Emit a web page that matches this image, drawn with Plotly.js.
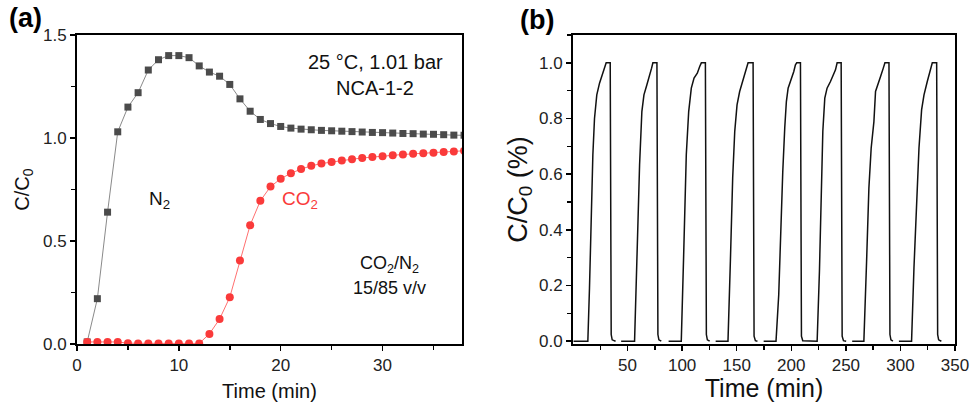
<!DOCTYPE html>
<html>
<head>
<meta charset="utf-8">
<script src="https://cdn.plot.ly/plotly-3.0.1.min.js"></script>
<style>
  html, body { margin: 0; padding: 0; background: #fff; }
  #chart { width: 971px; height: 402px; }
</style>
</head>
<body>
<div id="chart"></div>
<script>
// (a) breakthrough curves, 25 °C, 1.01 bar, NCA-1-2
const n2Time = [1, 2, 3, 4, 5, 6, 7, 8, 9, 10, 11, 12, 13, 14, 15, 16, 17, 18, 19, 20,
  21, 22, 23, 24, 25, 26, 27, 28, 29, 30, 31, 32, 33, 34, 35, 36, 37, 38];
const n2C = [0.01, 0.22, 0.64, 1.03, 1.15, 1.22, 1.33, 1.38, 1.40, 1.40, 1.39, 1.35, 1.32, 1.30,
  1.26, 1.19, 1.13, 1.09, 1.07, 1.056, 1.048, 1.043, 1.040, 1.037, 1.035, 1.033, 1.031, 1.029,
  1.027, 1.026, 1.024, 1.022, 1.021, 1.019, 1.018, 1.016, 1.014, 1.013];
const co2Time = [1, 2, 3, 4, 5, 6, 7, 8, 9, 10, 11, 12, 13, 14, 15, 16, 17, 18, 19, 20,
  21, 22, 23, 24, 25, 26, 27, 28, 29, 30, 31, 32, 33, 34, 35, 36, 37, 38];
const co2C = [0.01, 0.01, 0.01, 0.01, 0.004, 0.003, 0.003, 0.003, 0.003, 0.003, 0.003, 0.003,
  0.049, 0.121, 0.227, 0.405, 0.577, 0.695, 0.764, 0.802, 0.829, 0.849, 0.865, 0.876, 0.884,
  0.891, 0.897, 0.903, 0.908, 0.912, 0.916, 0.920, 0.923, 0.926, 0.929, 0.932, 0.935, 0.938];

// (b) eight adsorption/desorption cycles
const cycleTime = [
  [0.5, 13.6, 15.1, 16.6, 18.2, 19.7, 21.8, 24.3, 26.7, 28.9, 30.4, 34.1, 35.0, 35.9, 39.0],
  [44.1, 56.4, 58.5, 61.0, 63.1, 65.0, 67.7, 70.2, 72.0, 73.2, 76.9, 77.8, 78.7, 80.9],
  [87.6, 99.2, 101.4, 103.8, 106.0, 108.4, 110.9, 113.9, 116.1, 117.6, 121.3, 122.2, 123.1, 125.2],
  [130.7, 142.0, 144.2, 146.3, 148.2, 150.3, 152.7, 155.8, 158.9, 160.4, 165.0, 165.9, 167.1, 169.0],
  [174.7, 186.0, 188.5, 190.0, 192.2, 194.0, 195.5, 197.1, 199.8, 202.3, 203.8, 205.0, 208.4, 209.3, 210.5,
   223.7, 225.8, 227.6, 228.9, 230.7, 232.8, 235.9, 238.0, 240.5, 242.0, 245.7, 246.6, 247.8, 250.3],
  [255.8, 266.5, 269.0, 271.1, 273.2, 275.7, 277.2, 279.4, 281.8, 284.3, 285.8, 289.5, 290.4, 291.3, 293.1],
  [298.6, 310.2, 312.4, 314.5, 317.0, 319.4, 321.6, 324.6, 327.7, 329.2, 333.2, 334.1, 335.0, 337.5]
];
const cycleC = [
  [0, 0, 0.19, 0.45, 0.67, 0.80, 0.885, 0.927, 0.957, 0.987, 1.0, 1.0, 0.024, 0.005, 0],
  [0, 0, 0.287, 0.634, 0.825, 0.885, 0.921, 0.951, 0.981, 1.0, 1.0, 0.024, 0.005, 0],
  [0, 0, 0.311, 0.67, 0.825, 0.909, 0.945, 0.963, 0.987, 1.0, 1.0, 0.024, 0.005, 0],
  [0, 0, 0.287, 0.586, 0.754, 0.849, 0.897, 0.939, 0.981, 1.0, 1.0, 0.018, 0.002, 0],
  [0, 0, 0.167, 0.359, 0.61, 0.766, 0.861, 0.909, 0.939, 0.969, 0.993, 1.0, 1.0, 0.018, 0.002,
   0, 0.251, 0.55, 0.754, 0.873, 0.909, 0.933, 0.951, 0.975, 1.0, 1.0, 0.018, 0.002, 0],
  [0, 0, 0.287, 0.55, 0.694, 0.789, 0.897, 0.927, 0.951, 0.981, 1.0, 1.0, 0.024, 0.005, 0],
  [0, 0, 0.263, 0.49, 0.694, 0.831, 0.885, 0.933, 0.975, 1.0, 1.0, 0.024, 0.005, 0]
];

const xTicksB = [50, 100, 150, 200, 250, 300, 350];

// join the cycles into one line, broken between runs
const bTime = [], bC = [];
cycleTime.forEach((t, i) => {
  if (i > 0) { bTime.push(null); bC.push(null); }
  t.forEach((v, j) => { bTime.push(v); bC.push(cycleC[i][j]); });
});
const minorB = [];
for (let v = 25; v < 350; v += 50) minorB.push(v);

const FONT = 'Arial, "Liberation Sans", sans-serif';

const traces = [
  {
    x: n2Time, y: n2C, xaxis: 'x', yaxis: 'y', mode: 'lines+markers',
    line: { color: '#8a8a8a', width: 1 },
    marker: { symbol: 'square', size: 7, color: '#4b4b4b' },
    showlegend: false
  },
  {
    x: co2Time, y: co2C, xaxis: 'x', yaxis: 'y', mode: 'lines+markers',
    line: { color: '#ff7070', width: 1 },
    marker: { symbol: 'circle', size: 8, color: '#fa3a3a' },
    showlegend: false
  },
  {
    x: bTime, y: bC, xaxis: 'x2', yaxis: 'y2', mode: 'lines',
    line: { color: '#111', width: 1.5 }, connectgaps: false,
    showlegend: false
  }
];

const axisBase = {
  showgrid: false, zeroline: false, showline: true, linecolor: '#000', linewidth: 2,
  mirror: true, ticks: 'outside', ticklen: 5, tickwidth: 1.5, tickcolor: '#000',
  tickfont: { family: FONT, size: 17, color: '#222' }
};

const layout = {
  width: 971, height: 402,
  margin: { l: 0, r: 0, t: 0, b: 0 },
  paper_bgcolor: '#fff', plot_bgcolor: '#fff',
  font: { family: FONT, color: '#000' },
  xaxis: Object.assign({}, axisBase, {
    domain: [77 / 971, 462 / 971], range: [0, 37.8], anchor: 'y',
    tickmode: 'linear', tick0: 0, dtick: 10,
    minor: { dtick: 5, tick0: 0, ticks: 'outside', ticklen: 4, tickwidth: 1.5, tickcolor: '#000' },
    title: { text: 'Time (min)', font: { family: FONT, size: 20, color: '#111' }, standoff: 11 }
  }),
  yaxis: Object.assign({}, axisBase, {
    domain: [58 / 402, 367 / 402], range: [0, 1.5], anchor: 'x',
    tickmode: 'linear', tick0: 0, dtick: 0.5, tickformat: '.1f',
    minor: { dtick: 0.25, tick0: 0, ticks: 'outside', ticklen: 4, tickwidth: 1.5, tickcolor: '#000' },
    title: { text: 'C/C<sub>0</sub>', font: { family: FONT, size: 20, color: '#111' }, standoff: 8 }
  }),
  xaxis2: Object.assign({}, axisBase, {
    domain: [573 / 971, 955 / 971], range: [0, 350], anchor: 'y2',
    tickmode: 'array', tickvals: xTicksB,
    minor: { tickmode: 'array', tickvals: minorB, ticks: 'outside', ticklen: 4, tickwidth: 1.5, tickcolor: '#000' },
    title: { text: 'Time (min)', font: { family: FONT, size: 25, color: '#111' }, standoff: 2 }
  }),
  yaxis2: Object.assign({}, axisBase, {
    domain: [58 / 402, 367 / 402], range: [-0.01, 1.1], anchor: 'x2',
    tickmode: 'linear', tick0: 0, dtick: 0.2, tickformat: '.1f',
    minor: { dtick: 0.1, tick0: 0, ticks: 'outside', ticklen: 4, tickwidth: 1.5, tickcolor: '#000' },
    title: { text: 'C/C<sub>0</sub> (%)', font: { family: FONT, size: 27, color: '#111' }, standoff: 4 }
  }),
  annotations: [
    { text: '<b>(a)</b>', xref: 'paper', yref: 'paper', x: 25 / 971, y: 1 - 18 / 402,
      xanchor: 'center', yanchor: 'middle', showarrow: false, font: { family: FONT, size: 27, color: '#000' } },
    { text: '<b>(b)</b>', xref: 'paper', yref: 'paper', x: 537 / 971, y: 1 - 20 / 402,
      xanchor: 'center', yanchor: 'middle', showarrow: false, font: { family: FONT, size: 27, color: '#000' } },
    { text: '25 °C, 1.01 bar', xref: 'x', yref: 'y', x: 29.3, y: 1.37, showarrow: false,
      xanchor: 'center', yanchor: 'middle', font: { family: FONT, size: 20, color: '#111' } },
    { text: 'NCA-1-2', xref: 'x', yref: 'y', x: 29.3, y: 1.245, showarrow: false,
      xanchor: 'center', yanchor: 'middle', font: { family: FONT, size: 20, color: '#111' } },
    { text: 'N<sub>2</sub>', xref: 'x', yref: 'y', x: 8.1, y: 0.70, showarrow: false,
      xanchor: 'center', yanchor: 'middle', font: { family: FONT, size: 19, color: '#111' } },
    { text: 'CO<sub>2</sub>', xref: 'x', yref: 'y', x: 21.9, y: 0.70, showarrow: false,
      xanchor: 'center', yanchor: 'middle', font: { family: FONT, size: 19, color: '#fa3a3a' } },
    { text: 'CO<sub>2</sub>/N<sub>2</sub>', xref: 'x', yref: 'y', x: 30.7, y: 0.385, showarrow: false,
      xanchor: 'center', yanchor: 'middle', font: { family: FONT, size: 18, color: '#111' } },
    { text: '15/85 v/v', xref: 'x', yref: 'y', x: 30.7, y: 0.272, showarrow: false,
      xanchor: 'center', yanchor: 'middle', font: { family: FONT, size: 18, color: '#111' } }
  ]
};

Plotly.newPlot('chart', traces, layout, { staticPlot: true, displayModeBar: false });
</script>
</body>
</html>
